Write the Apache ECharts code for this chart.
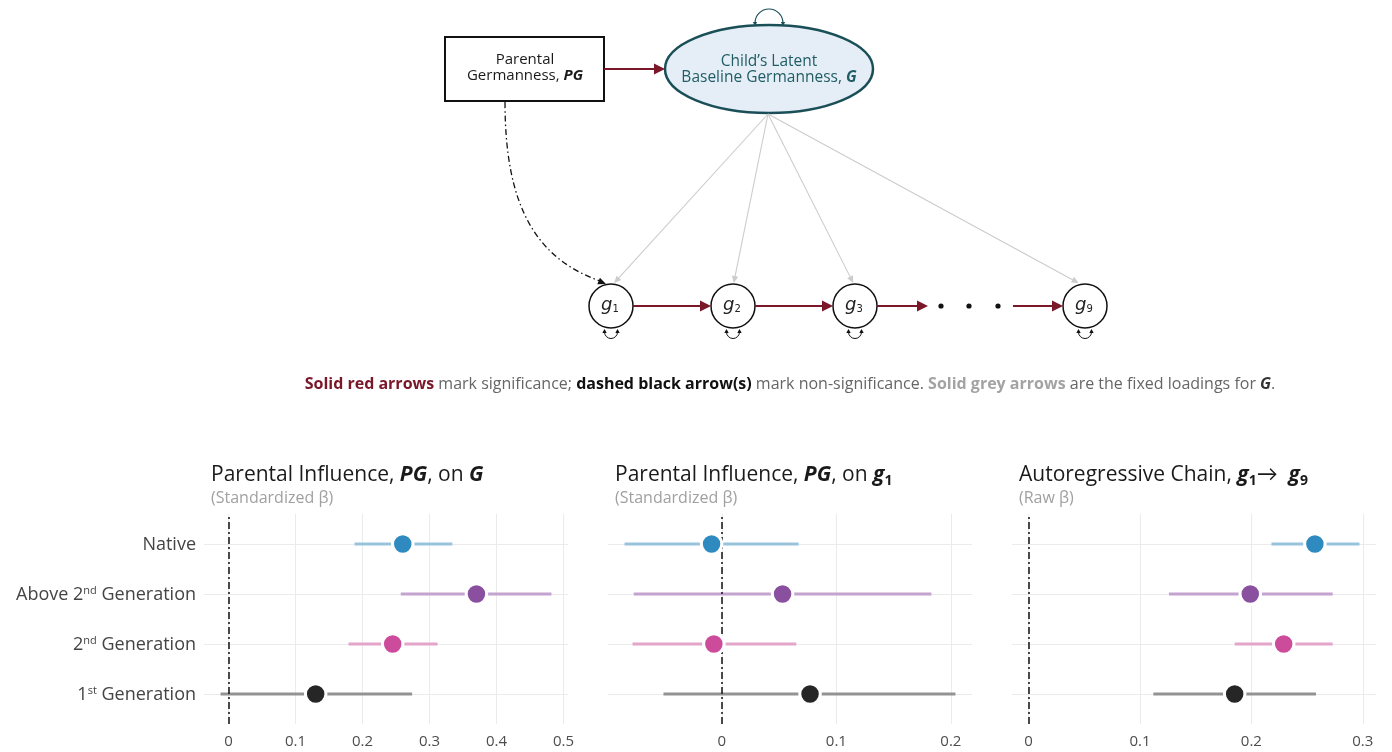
<!DOCTYPE html>
<html>
<head>
<meta charset="utf-8">
<script src="https://cdn.jsdelivr.net/npm/echarts@6/dist/echarts.min.js"></script>
<style>
  html, body { margin: 0; padding: 0; background: #fff; }
  #chart { width: 1392px; height: 752px; }
</style>
</head>
<body>
<div id="chart"></div>
<script>
// ---- Data ---------------------------------------------------------------
const groups = ['Native', 'Above 2nd Generation', '2nd Generation', '1st Generation'];
const groupLabels = ['Native', 'Above 2{sup|nd} Generation', '2{sup|nd} Generation', '1{sup|st} Generation'];
const groupRows = [4, 3, 2, 1];
const pointColors = ['#2f8bbf', '#8b4f9f', '#cc4b9a', '#262626'];
const rangeColors = ['#98c3dd', '#c4a4cf', '#e4a5ca', '#939393'];

// Parental influence, PG, on G (standardized beta)
const pgOnG_est = [0.260, 0.370, 0.245, 0.130];
const pgOnG_lo  = [0.188, 0.257, 0.179, -0.012];
const pgOnG_hi  = [0.334, 0.482, 0.312, 0.274];
const pgOnG_ticks = [0, 0.1, 0.2, 0.3, 0.4, 0.5];

// Parental influence, PG, on g1 (standardized beta)
const pgOnG1_est = [-0.009, 0.053, -0.007, 0.077];
const pgOnG1_lo  = [-0.085, -0.077, -0.078, -0.051];
const pgOnG1_hi  = [0.067, 0.183, 0.065, 0.204];
const pgOnG1_ticks = [0, 0.1, 0.2];

// Autoregressive chain g1 -> g9 (raw beta)
const chain_est = [0.257, 0.199, 0.229, 0.185];
const chain_lo  = [0.218, 0.126, 0.185, 0.112];
const chain_hi  = [0.297, 0.273, 0.273, 0.258];
const chain_ticks = [0, 0.1, 0.2, 0.3];

// ---- Layout & style ------------------------------------------------------
const FONT = '"Open Sans", Lato, sans-serif';
const RED = '#7a1728';
const TEAL = '#1b4f58';
const GRID_LINE = '#ebebeb';

const panels = [
  { est: pgOnG_est, lo: pgOnG_lo, hi: pgOnG_hi, ticks: pgOnG_ticks, left: 204 },
  { est: pgOnG1_est, lo: pgOnG1_lo, hi: pgOnG1_hi, ticks: pgOnG1_ticks, left: 608 },
  { est: chain_est, lo: chain_lo, hi: chain_hi, ticks: chain_ticks, left: 1012 }
];
const PANEL_W = 364, PANEL_TOP = 514, PANEL_H = 210;

// axis range: data range (including the zero reference line) padded by 5%
function paddedExtent(lo, hi) {
  const mn = Math.min(0, ...lo), mx = Math.max(0, ...hi);
  const pad = (mx - mn) * 0.05;
  return [mn - pad, mx + pad];
}

const grids = [], xAxes = [], yAxes = [], series = [];
panels.forEach((p, i) => {
  const ext = paddedExtent(p.lo, p.hi);
  grids.push({ left: p.left, top: PANEL_TOP, width: PANEL_W, height: PANEL_H, containLabel: false });
  xAxes.push({
    type: 'value', gridIndex: i, min: ext[0], max: ext[1],
    axisLine: { show: false },
    axisTick: { show: false, customValues: p.ticks },
    axisLabel: {
      customValues: p.ticks, margin: 10, color: '#4d4d4d', fontSize: 15, fontFamily: FONT,
      formatter: v => String(+v.toFixed(2))
    },
    splitLine: { show: true, lineStyle: { color: GRID_LINE, width: 1 } }
  });
  yAxes.push({
    type: 'value', gridIndex: i, min: 0.4, max: 4.6,
    axisLine: { show: false },
    axisTick: { show: false, customValues: groupRows },
    axisLabel: {
      show: i === 0, customValues: groupRows, margin: 8, color: '#444', fontSize: 18, fontFamily: FONT,
      padding: [2, 0, 0, 0],
      formatter: v => groupLabels[groupRows.indexOf(Math.round(v))] || '',
      rich: { sup: { fontSize: 11, fontFamily: FONT, color: '#444', padding: [0, 0, 9, 0] } }
    },
    splitLine: { show: true, lineStyle: { color: GRID_LINE, width: 1 } }
  });

  // confidence ranges
  series.push({
    type: 'custom', xAxisIndex: i, yAxisIndex: i, silent: true, z: 2,
    data: groups.map((g, k) => [p.lo[k], p.hi[k], groupRows[k], k]),
    encode: { x: [0, 1], y: 2 },
    renderItem: (params, api) => {
      const a = api.coord([api.value(0), api.value(2)]);
      const b = api.coord([api.value(1), api.value(2)]);
      return {
        type: 'line',
        shape: { x1: a[0], y1: a[1], x2: b[0], y2: b[1] },
        style: { stroke: rangeColors[api.value(3)], lineWidth: 3 }
      };
    },
    markLine: {
      silent: true, symbol: 'none', label: { show: false }, z: 3,
      lineStyle: { color: '#111', width: 1.5, type: [7, 3, 2, 3] },
      data: [{ xAxis: 0 }]
    }
  });
  // point estimates
  series.push({
    type: 'scatter', xAxisIndex: i, yAxisIndex: i, silent: true, z: 4,
    symbolSize: 20.5,
    data: groups.map((g, k) => ({
      value: [p.est[k], groupRows[k]],
      itemStyle: { color: pointColors[k], borderColor: '#fff', borderWidth: 3, opacity: 1 }
    }))
  });
});

// ---- Path diagram -------------------------------------------------------
function head(x, y, ang, len, hw, color) {
  const bx = x - len * Math.cos(ang), by = y - len * Math.sin(ang);
  const px = -Math.sin(ang) * hw, py = Math.cos(ang) * hw;
  return { type: 'polygon', silent: true,
    shape: { points: [[x, y], [bx + px, by + py], [bx - px, by - py]] },
    style: { fill: color } };
}
function arrow(x1, y1, x2, y2, color, w, len, hw) {
  const ang = Math.atan2(y2 - y1, x2 - x1);
  const ex = x2 - len * 0.7 * Math.cos(ang), ey = y2 - len * 0.7 * Math.sin(ang);
  return [
    { type: 'line', silent: true, shape: { x1, y1, x2: ex, y2: ey }, style: { stroke: color, lineWidth: w } },
    head(x2, y2, ang, len, hw, color)
  ];
}
function loopBelow(cx, cy) {
  return [
    { type: 'arc', silent: true, shape: { cx, cy: cy + 26, r: 6.5, startAngle: 0, endAngle: Math.PI, clockwise: true },
      style: { stroke: '#111', lineWidth: 1, fill: null } },
    head(cx - 6.5, cy + 23, -Math.PI / 2, 4, 2.2, '#111'),
    head(cx + 6.5, cy + 23, -Math.PI / 2, 4, 2.2, '#111')
  ];
}

const nodeG = [
  { x: 611, sub: '1' }, { x: 733, sub: '2' }, { x: 855, sub: '3' }, { x: 1085, sub: '9' }
];
const NODE_Y = 306, NODE_R = 22;
const EL = { cx: 769, cy: 69, rx: 104, ry: 44 };

const gfx = [];
// parental box
gfx.push({ type: 'rect', silent: true, shape: { x: 445, y: 37, width: 159, height: 64 },
  style: { fill: '#fff', stroke: '#111', lineWidth: 2 } });
gfx.push({ type: 'text', silent: true, style: {
  text: 'Parental\nGermanness, {bi|PG}', x: 525, y: 68, align: 'center', verticalAlign: 'middle',
  fontSize: 15, fontFamily: FONT, fill: '#1a1a1a', lineHeight: 16,
  rich: { bi: { fontSize: 15, fontFamily: FONT, fontWeight: 'bold', fontStyle: 'italic', fill: '#1a1a1a' } }
} });
// latent ellipse and its variance loop
gfx.push({ type: 'ellipse', silent: true, shape: EL,
  style: { fill: '#e5eef6', stroke: TEAL, lineWidth: 2.5 } });
gfx.push({ type: 'text', silent: true, style: {
  text: 'Child\u2019s Latent\nBaseline Germanness, {bi|G}', x: EL.cx, y: 70, align: 'center', verticalAlign: 'middle',
  fontSize: 15.5, fontFamily: FONT, fill: '#1f5c64', lineHeight: 16,
  rich: { bi: { fontSize: 15.5, fontFamily: FONT, fontWeight: 'bold', fontStyle: 'italic', fill: '#1f5c64' } }
} });
gfx.push({ type: 'arc', silent: true, shape: { cx: 769, cy: 23, r: 14, startAngle: Math.PI, endAngle: 2 * Math.PI, clockwise: true },
  style: { stroke: TEAL, lineWidth: 1.2, fill: null } });
gfx.push(head(755, 26, Math.PI / 2, 4, 2.2, TEAL), head(783, 26, Math.PI / 2, 4, 2.2, TEAL));
// PG -> G
gfx.push(...arrow(604, 69, 665, 69, RED, 2.2, 11, 5.5));
// fixed loadings
nodeG.forEach(n => {
  gfx.push(...arrow(768, 114, n.x + (768 - n.x) * 0.02, NODE_Y - NODE_R - 1, '#cccccc', 1.1, 7, 3.2));
});
// PG -> g1 (non-significant)
gfx.push({ type: 'bezierCurve', silent: true,
  shape: { x1: 505, y1: 102, cpx1: 505, cpy1: 205, cpx2: 535, cpy2: 258, x2: 600, y2: 281 },
  style: { stroke: '#111', lineWidth: 1.3, lineDash: [6, 3, 1.5, 3], fill: null } });
gfx.push(head(606, 284, Math.atan2(284 - 265, 606 - 560), 8, 3.5, '#111'));
// indicator nodes
nodeG.forEach(n => {
  gfx.push({ type: 'circle', silent: true, shape: { cx: n.x, cy: NODE_Y, r: NODE_R },
    style: { fill: '#fff', stroke: '#111', lineWidth: 1.5 } });
  gfx.push({ type: 'text', silent: true, style: {
    text: '{g|g}{s|' + n.sub + '}', x: n.x - 1, y: NODE_Y - 1, align: 'center', verticalAlign: 'middle',
    rich: {
      g: { fontSize: 18, fontFamily: '"DejaVu Sans", sans-serif', fontStyle: 'italic', fill: '#222' },
      s: { fontSize: 10, fontFamily: '"DejaVu Sans", sans-serif', fill: '#222', padding: [9, 0, 0, 0] }
    }
  } });
  gfx.push(...loopBelow(n.x, NODE_Y));
});
// autoregressive chain
gfx.push(...arrow(633, NODE_Y, 711, NODE_Y, RED, 2.2, 11, 5.5));
gfx.push(...arrow(755, NODE_Y, 833, NODE_Y, RED, 2.2, 11, 5.5));
gfx.push(...arrow(877, NODE_Y, 928, NODE_Y, RED, 2.2, 11, 5.5));
gfx.push(...arrow(1013, NODE_Y, 1063, NODE_Y, RED, 2.2, 11, 5.5));
[941, 969, 998].forEach(x => gfx.push({ type: 'circle', silent: true, shape: { cx: x, cy: NODE_Y, r: 2.6 }, style: { fill: '#111' } }));
// key
const KEY_FS = 16;
gfx.push({ type: 'text', silent: true, style: {
  text: '{r|Solid red arrows}{t| mark significance; }{k|dashed black arrow(s)}{t| mark non-significance. }{g|Solid grey arrows}{t| are the fixed loadings for }{gi|G}{t|.}',
  x: 790, y: 384, align: 'center', verticalAlign: 'middle',
  rich: {
    r: { fontSize: KEY_FS, fontFamily: FONT, fontWeight: 'bold', fill: RED },
    k: { fontSize: KEY_FS, fontFamily: FONT, fontWeight: 'bold', fill: '#111' },
    g: { fontSize: KEY_FS, fontFamily: FONT, fontWeight: 'bold', fill: '#a3a3a3' },
    gi: { fontSize: KEY_FS, fontFamily: FONT, fontWeight: 'bold', fontStyle: 'italic', fill: '#333' },
    t: { fontSize: KEY_FS, fontFamily: FONT, fill: '#666' }
  }
} });

// ---- Panel titles --------------------------------------------------------
const TITLE_FS = 21;
const titleRich = {
  n: { fontSize: TITLE_FS, fontFamily: FONT, color: '#1a1a1a', fontWeight: 'normal' },
  b: { fontSize: TITLE_FS, fontFamily: FONT, color: '#1a1a1a', fontWeight: 'bold', fontStyle: 'italic' },
  bs: { fontSize: 14, fontFamily: FONT, color: '#1a1a1a', fontWeight: 'bold', padding: [12, 0, 0, 0] }
};
const subStyle = { fontSize: 16, fontFamily: FONT, color: '#a0a0a0', fontWeight: 'normal' };
const titles = [
  { left: 211, top: 465, gap: 4, text: '{n|Parental Influence, }{b|PG}{n|, on }{b|G}', subtext: '(Standardized \u03b2)' },
  { left: 615, top: 462, gap: 5, text: '{n|Parental Influence, }{b|PG}{n|, on }{b|g}{bs|1}', subtext: '(Standardized \u03b2)' },
  { left: 1019, top: 462, gap: 5, text: '{n|Autoregressive Chain, }{b|g}{bs|1}{n|\u2192  }{b|g}{bs|9}', subtext: '(Raw \u03b2)' }
].map(t => ({
  left: t.left, top: t.top, padding: 0, itemGap: t.gap,
  text: t.text, textStyle: { rich: titleRich, fontWeight: 'normal' },
  subtext: t.subtext, subtextStyle: subStyle
}));

const chart = echarts.init(document.getElementById('chart'), null, { renderer: 'canvas' });
chart.setOption({
  backgroundColor: '#fff',
  animation: false,
  title: titles,
  grid: grids,
  xAxis: xAxes,
  yAxis: yAxes,
  series: series,
  graphic: { elements: gfx }
});
</script>
</body>
</html>
